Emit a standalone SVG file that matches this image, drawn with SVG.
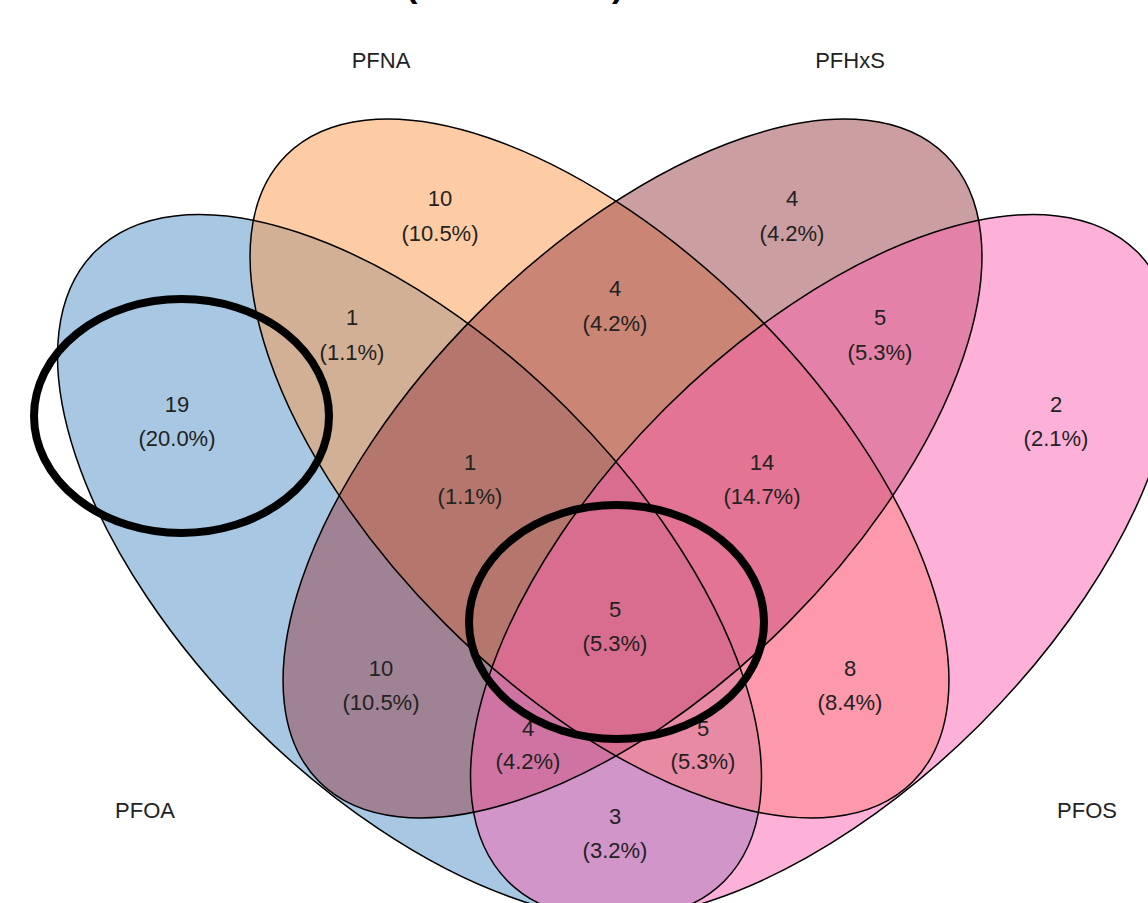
<svg xmlns="http://www.w3.org/2000/svg" width="1148" height="903" viewBox="0 0 1148 903">
  <style>
    .fill { stroke: none; fill-opacity: 0.5; }
    .outline { fill: none; stroke: #000; stroke-width: 1.5; }
    .num { font-family: "Liberation Sans", Arial, sans-serif; font-size: 22px; fill: #222; text-anchor: middle; }
    .cat { font-family: "Liberation Sans", Arial, sans-serif; font-size: 22px; fill: #222; text-anchor: middle; }
    .title { font-family: "Liberation Sans", Arial, sans-serif; font-size: 34px; font-weight: bold; fill: #000; }
    .mark { fill: none; stroke: #000; stroke-width: 8; }
  </style>
  <defs>
    <ellipse id="e-PFOA" cx="409.5" cy="566.5" rx="445" ry="223" transform="rotate(45 409.5 566.5)"/>
    <ellipse id="e-PFNA" cx="599.5" cy="468.5" rx="443" ry="219" transform="rotate(45 599.5 468.5)"/>
    <ellipse id="e-PFHxS" cx="632.5" cy="468.5" rx="443" ry="219" transform="rotate(-45 632.5 468.5)"/>
    <ellipse id="e-PFOS" cx="822.5" cy="566.5" rx="445" ry="223" transform="rotate(-45 822.5 566.5)"/>
  </defs>
  <rect width="1148" height="903" fill="#fff"/>

  <text class="title" x="406" y="-3">(</text>
  <text class="title" x="612" y="-3">)</text>

  <g id="set-PFOA">
    <use href="#e-PFOA" class="fill" fill="#4f8fc5"/>
    <text class="cat" x="145" y="818">PFOA</text>
  </g>
  <g id="set-PFNA">
    <use href="#e-PFNA" class="fill" fill="#fd9949"/>
    <text class="cat" x="381" y="68">PFNA</text>
  </g>
  <g id="set-PFHxS">
    <use href="#e-PFHxS" class="fill" fill="#973d43"/>
    <text class="cat" x="850" y="68">PFHxS</text>
  </g>
  <g id="set-PFOS">
    <use href="#e-PFOS" class="fill" fill="#fd63b1"/>
    <text class="cat" x="1087" y="818">PFOS</text>
  </g>

  <g id="outlines">
    <use href="#e-PFOA" class="outline"/>
    <use href="#e-PFNA" class="outline"/>
    <use href="#e-PFHxS" class="outline"/>
    <use href="#e-PFOS" class="outline"/>
  </g>

  <g id="counts">
    <text class="num" x="440" y="206">10</text><text class="num" x="440" y="241">(10.5%)</text>
    <text class="num" x="792" y="206">4</text><text class="num" x="792" y="241">(4.2%)</text>
    <text class="num" x="352" y="325">1</text><text class="num" x="352" y="360">(1.1%)</text>
    <text class="num" x="615" y="296">4</text><text class="num" x="615" y="331">(4.2%)</text>
    <text class="num" x="880" y="325">5</text><text class="num" x="880" y="360">(5.3%)</text>
    <text class="num" x="177" y="412">19</text><text class="num" x="177" y="446">(20.0%)</text>
    <text class="num" x="1056" y="412">2</text><text class="num" x="1056" y="446">(2.1%)</text>
    <text class="num" x="470" y="470">1</text><text class="num" x="470" y="504">(1.1%)</text>
    <text class="num" x="762" y="470">14</text><text class="num" x="762" y="504">(14.7%)</text>
    <text class="num" x="615" y="617">5</text><text class="num" x="615" y="651">(5.3%)</text>
    <text class="num" x="381" y="676">10</text><text class="num" x="381" y="710">(10.5%)</text>
    <text class="num" x="850" y="676">8</text><text class="num" x="850" y="710">(8.4%)</text>
    <text class="num" x="528" y="736">4</text><text class="num" x="528" y="769">(4.2%)</text>
    <text class="num" x="703" y="736">5</text><text class="num" x="703" y="769">(5.3%)</text>
    <text class="num" x="615" y="824">3</text><text class="num" x="615" y="858">(3.2%)</text>
  </g>

  <g id="highlights">
    <ellipse class="mark" cx="181.5" cy="416" rx="147.5" ry="117"/>
    <ellipse class="mark" cx="616.5" cy="622" rx="147.5" ry="117"/>
  </g>
</svg>
